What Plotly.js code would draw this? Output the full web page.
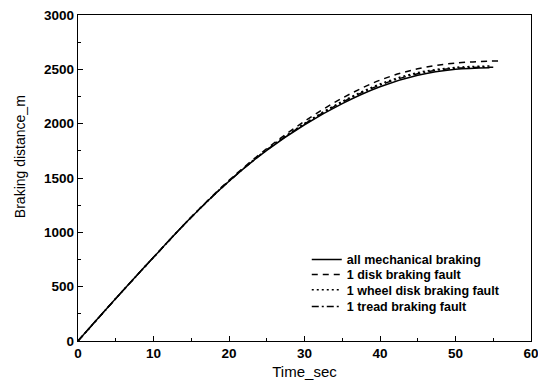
<!DOCTYPE html>
<html>
<head>
<meta charset="utf-8">
<script src="https://cdn.plot.ly/plotly-3.0.1.min.js"></script>
<style>html,body{margin:0;padding:0;background:#fff}#chart{width:538px;height:390px}</style>
</head>
<body>
<div id="chart"></div>
<script>
const seriesNames = ["all mechanical braking", "1 disk braking fault", "1 wheel disk braking fault", "1 tread braking fault"];
const tAll   = [0, 5, 10, 15, 20, 25, 30, 35, 40, 45, 50, 54.5];
const dAll   = [0, 390, 770, 1138, 1470, 1755, 1990, 2185, 2340, 2445, 2500, 2515];
const tDisk  = [0, 5, 10, 15, 20, 25, 30, 35, 40, 45, 50, 55.9];
const dDisk  = [0, 390, 770, 1140, 1478, 1770, 2022, 2235, 2400, 2505, 2558, 2578];
const tWheel = [0, 5, 10, 15, 20, 25, 30, 35, 40, 45, 50, 54.5];
const dWheel = [0, 390, 770, 1139, 1472, 1760, 2002, 2205, 2365, 2470, 2518, 2530];
const tTread = [0, 5, 10, 15, 20, 25, 30, 35, 40, 45, 50, 55];
const dTread = [0, 390, 770, 1139, 1471, 1758, 1997, 2197, 2355, 2460, 2510, 2520];

const dashes = ["solid", "6px,5px", "2px,3px", "7px,3px,2px,3px"];
const xs = [tAll, tDisk, tWheel, tTread];
const ys = [dAll, dDisk, dWheel, dTread];
const legendIds = ["legend", "legend2", "legend3", "legend4"];
const legendY = [0.2485, 0.2025, 0.1564, 0.1043];

const FONT = "Liberation Sans, Arial, sans-serif";

const traces = seriesNames.map((n, i) => ({
  x: xs[i], y: ys[i], name: n, type: "scatter", mode: "lines",
  legend: legendIds[i],
  line: {color: "#000", width: 1.5, dash: dashes[i], shape: "spline", smoothing: 1}
}));

const axisCommon = {
  showgrid: false, zeroline: false, showline: true, linecolor: "#000", linewidth: 1.2,
  mirror: true, ticks: "inside", ticklen: 5, tickcolor: "#000",
  ticklabeloverflow: "allow",
  tickfont: {family: FONT, size: 13.5, color: "#000", weight: "bold"}
};

const layout = {
  width: 538, height: 390,
  margin: {l: 78, r: 7, t: 15, b: 49},
  paper_bgcolor: "#fff", plot_bgcolor: "#fff",
  showlegend: true,
  xaxis: Object.assign({}, axisCommon, {
    range: [0, 60], dtick: 10, tick0: 0,
    minor: {dtick: 5, ticks: "inside", ticklen: 3, tickcolor: "#000"},
    title: {text: "Time_sec", standoff: 6, font: {family: FONT, size: 15, color: "#000"}}
  }),
  yaxis: Object.assign({}, axisCommon, {
    range: [0, 3000], dtick: 500, tick0: 0,
    minor: {dtick: 250, ticks: "inside", ticklen: 3, tickcolor: "#000"}
  }),
  annotations: [{
    text: "Braking distance_m", textangle: -90, showarrow: false,
    xref: "paper", yref: "paper", x: 0, y: 0.564, xanchor: "center", yanchor: "middle",
    xshift: -58, font: {family: FONT, size: 14, color: "#000"}
  }]
};
legendIds.forEach((id, i) => {
  layout[id] = {
    x: 0.505, y: legendY[i], xanchor: "left", yanchor: "middle",
    bgcolor: "rgba(0,0,0,0)", borderwidth: 0,
    font: {family: FONT, size: 12.5, color: "#000", weight: "bold"}
  };
});

Plotly.newPlot("chart", traces, layout, {displayModeBar: false, staticPlot: true});
</script>
</body>
</html>
